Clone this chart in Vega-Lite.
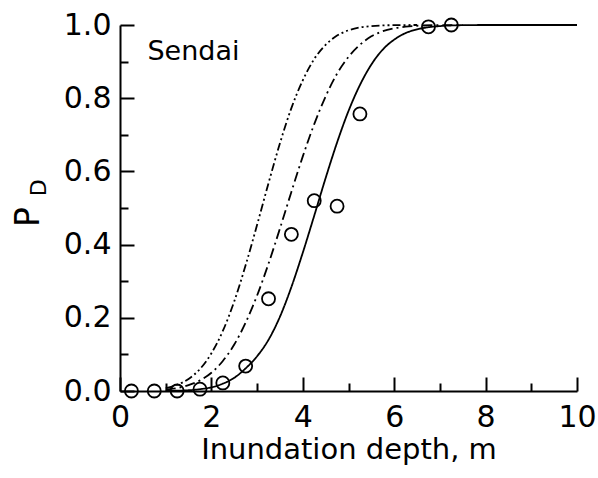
{
  "$schema": "https://vega.github.io/schema/vega-lite/v6.json",
  "width": 457,
  "height": 366,
  "autosize": {"type": "none"},
  "padding": {"left": 120, "top": 25, "right": 21, "bottom": 87},
  "background": "white",
  "config": {
    "view": {"stroke": null},
    "font": "DejaVu Sans",
    "axis": {
      "grid": false,
      "domainColor": "black",
      "domainWidth": 2,
      "tickColor": "black",
      "tickWidth": 2,
      "labelColor": "black",
      "titleColor": "black",
      "labelFont": "DejaVu Sans",
      "titleFont": "DejaVu Sans",
      "labelFontSize": 30,
      "titleFontSize": 29,
      "titleFontWeight": "normal"
    }
  },
  "datasets": {
    "curves": [
      {"curve": "solid", "x": 1.0, "p": 0.0003},
      {"curve": "solid", "x": 1.25, "p": 0.0008},
      {"curve": "solid", "x": 1.5, "p": 0.002},
      {"curve": "solid", "x": 1.75, "p": 0.005},
      {"curve": "solid", "x": 2.0, "p": 0.010},
      {"curve": "solid", "x": 2.25, "p": 0.020},
      {"curve": "solid", "x": 2.5, "p": 0.036},
      {"curve": "solid", "x": 2.75, "p": 0.062},
      {"curve": "solid", "x": 3.0, "p": 0.095},
      {"curve": "solid", "x": 3.25, "p": 0.140},
      {"curve": "solid", "x": 3.5, "p": 0.203},
      {"curve": "solid", "x": 3.75, "p": 0.284},
      {"curve": "solid", "x": 4.0, "p": 0.378},
      {"curve": "solid", "x": 4.25, "p": 0.479},
      {"curve": "solid", "x": 4.5, "p": 0.582},
      {"curve": "solid", "x": 4.75, "p": 0.679},
      {"curve": "solid", "x": 5.0, "p": 0.765},
      {"curve": "solid", "x": 5.25, "p": 0.836},
      {"curve": "solid", "x": 5.5, "p": 0.892},
      {"curve": "solid", "x": 5.75, "p": 0.933},
      {"curve": "solid", "x": 6.0, "p": 0.960},
      {"curve": "solid", "x": 6.25, "p": 0.978},
      {"curve": "solid", "x": 6.5, "p": 0.988},
      {"curve": "solid", "x": 6.75, "p": 0.994},
      {"curve": "solid", "x": 7.0, "p": 0.997},
      {"curve": "solid", "x": 7.5, "p": 0.9995},
      {"curve": "solid", "x": 8.0, "p": 1.0},
      {"curve": "solid", "x": 10.0, "p": 1.0},
      {"curve": "dashdot", "x": 1.0, "p": 0.004},
      {"curve": "dashdot", "x": 1.25, "p": 0.008},
      {"curve": "dashdot", "x": 1.5, "p": 0.016},
      {"curve": "dashdot", "x": 1.75, "p": 0.029},
      {"curve": "dashdot", "x": 2.0, "p": 0.050},
      {"curve": "dashdot", "x": 2.25, "p": 0.082},
      {"curve": "dashdot", "x": 2.5, "p": 0.127},
      {"curve": "dashdot", "x": 2.75, "p": 0.187},
      {"curve": "dashdot", "x": 3.0, "p": 0.261},
      {"curve": "dashdot", "x": 3.25, "p": 0.348},
      {"curve": "dashdot", "x": 3.5, "p": 0.444},
      {"curve": "dashdot", "x": 3.75, "p": 0.544},
      {"curve": "dashdot", "x": 4.0, "p": 0.641},
      {"curve": "dashdot", "x": 4.25, "p": 0.729},
      {"curve": "dashdot", "x": 4.5, "p": 0.805},
      {"curve": "dashdot", "x": 4.75, "p": 0.867},
      {"curve": "dashdot", "x": 5.0, "p": 0.913},
      {"curve": "dashdot", "x": 5.25, "p": 0.946},
      {"curve": "dashdot", "x": 5.5, "p": 0.969},
      {"curve": "dashdot", "x": 5.75, "p": 0.983},
      {"curve": "dashdot", "x": 6.0, "p": 0.991},
      {"curve": "dashdot", "x": 6.25, "p": 0.9955},
      {"curve": "dashdot", "x": 6.5, "p": 0.998},
      {"curve": "dashdot", "x": 7.0, "p": 0.9997},
      {"curve": "dashdot", "x": 7.5, "p": 1.0},
      {"curve": "dashdotdot", "x": 1.0, "p": 0.008},
      {"curve": "dashdotdot", "x": 1.25, "p": 0.017},
      {"curve": "dashdotdot", "x": 1.5, "p": 0.033},
      {"curve": "dashdotdot", "x": 1.75, "p": 0.060},
      {"curve": "dashdotdot", "x": 2.0, "p": 0.103},
      {"curve": "dashdotdot", "x": 2.25, "p": 0.164},
      {"curve": "dashdotdot", "x": 2.5, "p": 0.245},
      {"curve": "dashdotdot", "x": 2.75, "p": 0.344},
      {"curve": "dashdotdot", "x": 3.0, "p": 0.454},
      {"curve": "dashdotdot", "x": 3.25, "p": 0.568},
      {"curve": "dashdotdot", "x": 3.5, "p": 0.677},
      {"curve": "dashdotdot", "x": 3.75, "p": 0.773},
      {"curve": "dashdotdot", "x": 4.0, "p": 0.849},
      {"curve": "dashdotdot", "x": 4.25, "p": 0.907},
      {"curve": "dashdotdot", "x": 4.5, "p": 0.946},
      {"curve": "dashdotdot", "x": 4.75, "p": 0.971},
      {"curve": "dashdotdot", "x": 5.0, "p": 0.9855},
      {"curve": "dashdotdot", "x": 5.25, "p": 0.9933},
      {"curve": "dashdotdot", "x": 5.5, "p": 0.997},
      {"curve": "dashdotdot", "x": 6.0, "p": 0.9996},
      {"curve": "dashdotdot", "x": 6.5, "p": 1.0}
    ],
    "observed": [
      {"x": 0.25, "p": 0.0},
      {"x": 0.75, "p": 0.0},
      {"x": 1.25, "p": 0.0},
      {"x": 1.75, "p": 0.005},
      {"x": 2.25, "p": 0.022},
      {"x": 2.75, "p": 0.068},
      {"x": 3.25, "p": 0.252},
      {"x": 3.75, "p": 0.428},
      {"x": 4.25, "p": 0.52},
      {"x": 4.75, "p": 0.505},
      {"x": 5.25, "p": 0.757},
      {"x": 6.75, "p": 0.995},
      {"x": 7.25, "p": 1.0}
    ]
  },
  "resolve": {"axis": {"x": "independent", "y": "independent"}},
  "layer": [
    {
      "data": {"name": "curves"},
      "mark": {"type": "line", "color": "black", "strokeWidth": 1.8, "interpolate": "monotone"},
      "encoding": {
        "x": {
          "field": "x", "type": "quantitative",
          "scale": {"domain": [0, 10], "nice": false},
          "axis": {"orient": "bottom", "values": [0, 2, 4, 6, 8, 10], "tickSize": -14, "labelPadding": 25, "title": "Inundation depth, m", "titlePadding": 3, "labelFlush": false}
        },
        "y": {
          "field": "p", "type": "quantitative",
          "scale": {"domain": [0, 1], "nice": false},
          "axis": {"orient": "left", "values": [0, 0.2, 0.4, 0.6, 0.8, 1.0], "format": ".1f", "tickSize": -14, "labelPadding": 23, "title": null, "labelFlush": false}
        },
        "detail": {"field": "curve"},
        "strokeDash": {
          "field": "curve", "type": "nominal",
          "scale": {"domain": ["solid", "dashdot", "dashdotdot"], "range": [[1, 0], [10, 4, 2, 4], [8, 3, 2, 3, 2, 3]]},
          "legend": null
        }
      }
    },
    {
      "data": {"name": "observed"},
      "mark": {"type": "point", "shape": "circle", "filled": false, "color": "black", "strokeWidth": 1.8, "size": 170, "opacity": 1},
      "encoding": {
        "x": {
          "field": "x", "type": "quantitative",
          "axis": {"orient": "bottom", "values": [1, 3, 5, 7, 9], "tickSize": -8, "labels": false, "domain": false, "title": null}
        },
        "y": {
          "field": "p", "type": "quantitative",
          "axis": {"orient": "left", "values": [0.1, 0.3, 0.5, 0.7, 0.9], "tickSize": -8, "labels": false, "domain": false, "title": null}
        }
      }
    },
    {
      "data": {"values": [{"label": "Sendai"}]},
      "mark": {"type": "text", "align": "left", "baseline": "middle", "fontSize": 27, "font": "DejaVu Sans", "color": "black"},
      "encoding": {
        "x": {"datum": 0.6, "type": "quantitative", "axis": null},
        "y": {"datum": 0.925, "type": "quantitative", "axis": null},
        "text": {"field": "label"}
      }
    },
    {
      "data": {"values": [{"label": "P"}]},
      "mark": {"type": "text", "align": "center", "baseline": "middle", "angle": 270, "fontSize": 33, "font": "DejaVu Sans", "color": "black"},
      "encoding": {
        "x": {"datum": -2.0, "type": "quantitative", "axis": null},
        "y": {"datum": 0.475, "type": "quantitative", "axis": null},
        "text": {"field": "label"}
      }
    },
    {
      "data": {"values": [{"label": "D"}]},
      "mark": {"type": "text", "align": "center", "baseline": "middle", "angle": 270, "fontSize": 22, "font": "DejaVu Sans", "color": "black"},
      "encoding": {
        "x": {"datum": -1.78, "type": "quantitative", "axis": null},
        "y": {"datum": 0.555, "type": "quantitative", "axis": null},
        "text": {"field": "label"}
      }
    }
  ]
}
